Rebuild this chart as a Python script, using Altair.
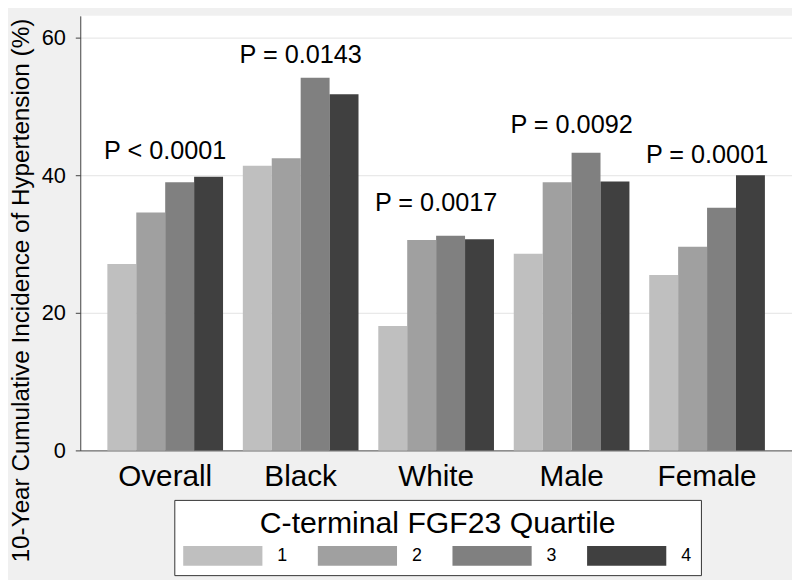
import altair as alt
import pandas as pd

groups = ["Overall", "Black", "White", "Male", "Female"]
quartiles = ["1", "2", "3", "4"]
q1 = [27.1, 41.4, 18.1, 28.6, 25.5]
q2 = [34.6, 42.5, 30.6, 39.0, 29.6]
q3 = [39.0, 54.2, 31.2, 43.3, 35.3]
q4 = [39.8, 51.8, 30.7, 39.1, 40.0]
p_labels = ["P < 0.0001", "P = 0.0143", "P = 0.0017", "P = 0.0092", "P = 0.0001"]
p_label_y = [42.4, 56.3, 34.8, 46.1, 41.8]
y_ticks = [0, 20, 40, 60]
colors = ["#bfbfbf", "#a0a0a0", "#808080", "#404040"]

rows = []
for i, g in enumerate(groups):
    for q, vals in zip(quartiles, [q1, q2, q3, q4]):
        rows.append({"group": g, "quartile": q, "value": vals[i]})
bars_df = pd.DataFrame(rows)
labels_df = pd.DataFrame({"group": groups, "label": p_labels, "ly": p_label_y})

FONT = "Liberation Sans"
Y_TITLE = "10-Year Cumulative Incidence of Hypertension (%)"

x_scale = alt.Scale(domain=groups, paddingInner=0.146, paddingOuter=0.2)
y_scale = alt.Scale(domain=[0, 63.2], nice=False, zero=True)

y_axis = alt.Axis(
    values=y_ticks, title=Y_TITLE, titleX=-52, titleY=277, titleAngle=270,
    titleBaseline="alphabetic", titleAlign="center", titleFontSize=24.5,
    titleFontWeight="normal", labelFontSize=22, labelPadding=10, tickSize=5,
    grid=True, gridColor="#e3e3e3", gridWidth=1, domainColor="#404040",
    tickColor="#404040",
)
x_axis = alt.Axis(title=None, ticks=False, labelAngle=0, labelFontSize=30,
                  labelPadding=11, grid=False, domainColor="#505050")

bars = alt.Chart(bars_df).mark_bar().encode(
    x=alt.X("group:N", scale=x_scale, sort=groups, axis=x_axis),
    xOffset=alt.XOffset("quartile:N", sort=quartiles,
                        scale=alt.Scale(paddingInner=0, paddingOuter=0)),
    y=alt.Y("value:Q", scale=y_scale, axis=y_axis),
    color=alt.Color(
        "quartile:N",
        scale=alt.Scale(domain=quartiles, range=colors),
        legend=alt.Legend(
            title="C-terminal FGF23 Quartile", orient="none", legendX=95,
            legendY=489, direction="horizontal", columns=4,
            symbolType="M-1,-1L7,-1L7,1L-1,1Z", symbolSize=400,
            symbolStrokeWidth=0, symbolOpacity=1, labelOffset=75,
            labelFontSize=18, labelFont=FONT, labelColor="black",
            columnPadding=30, rowPadding=0, titleFontSize=30.5, titleFont=FONT,
            titleFontWeight="normal", titleColor="black", titleAnchor="middle",
            titleAlign="center", titlePadding=7, titleLimit=700, padding=9,
            strokeColor="#333333", fillColor="white",
        ),
    ),
)

texts = alt.Chart(labels_df).mark_text(
    font=FONT, fontSize=25.5, baseline="alphabetic", align="center", color="black"
).encode(
    x=alt.X("group:N", scale=x_scale, sort=groups, axis=x_axis),
    y=alt.Y("ly:Q", scale=y_scale, axis=y_axis),
    text="label:N",
)

chart = alt.layer(bars, texts).properties(
    width=719, height=439,
    padding={"left": 73, "top": 5, "right": 0, "bottom": 128},
    autosize=alt.AutoSizeParams(type="none"),
    background="#f0f0f0",
).configure_view(fill="white", strokeWidth=0).configure_axis(
    labelFont=FONT, titleFont=FONT, labelColor="black", titleColor="black"
)

chart.save("out.html", embed_options={"renderer": "svg", "actions": False})
